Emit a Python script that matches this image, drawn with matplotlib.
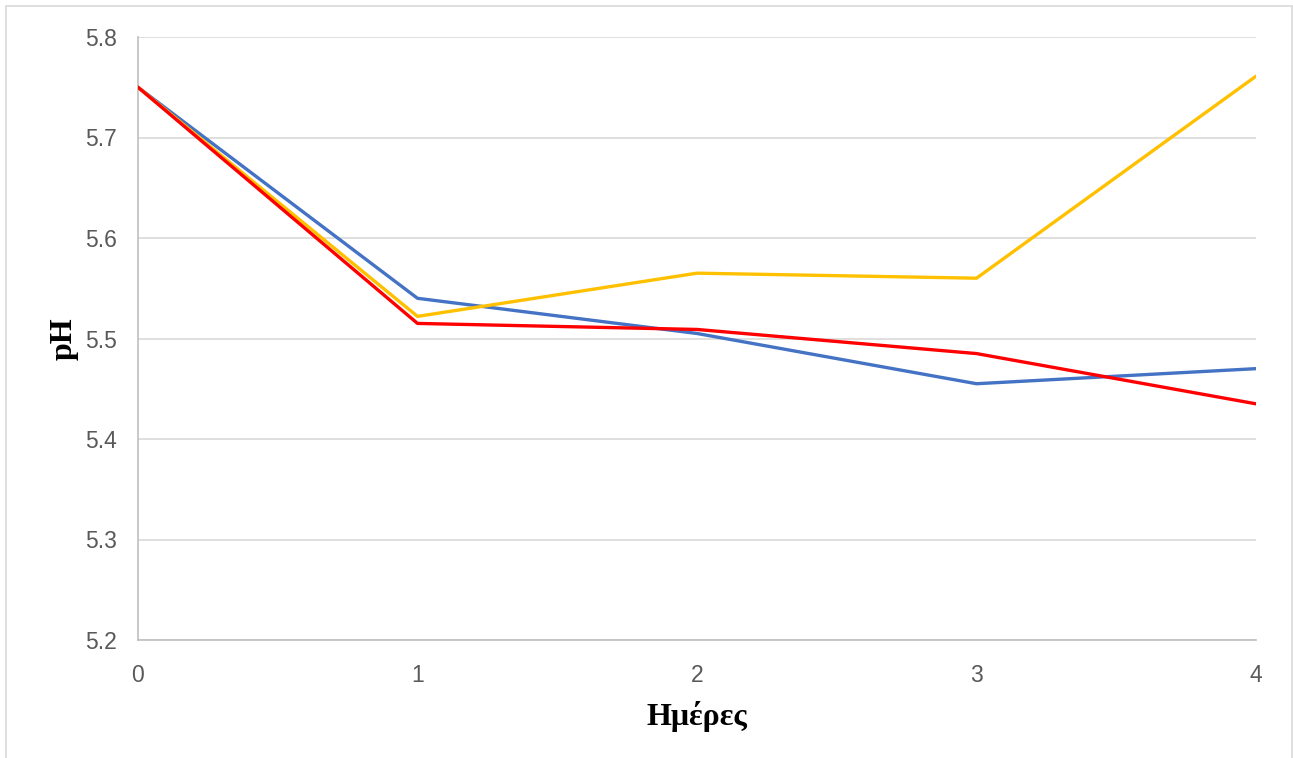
import matplotlib.pyplot as plt
from matplotlib.patches import Rectangle

days = [0, 1, 2, 3, 4]
ph_blue = [5.75, 5.540, 5.505, 5.455, 5.470]
ph_yellow = [5.75, 5.522, 5.565, 5.560, 5.761]
ph_red = [5.75, 5.515, 5.509, 5.485, 5.435]
y_ticks = [5.2, 5.3, 5.4, 5.5, 5.6, 5.7, 5.8]

W, H = 1293, 758
fig = plt.figure(figsize=(W / 100, H / 100), dpi=100)
fig.patch.set_facecolor("white")

# chart-area frame
fig.patches.append(Rectangle((6 / W, -0.01), (W - 7) / W, 1 - 6 / H + 0.01,
                             transform=fig.transFigure, fill=False,
                             edgecolor="#d9d9d9", linewidth=1.2))

ax = fig.add_axes([138 / W, 1 - 640 / H, (1256 - 138) / W, (640 - 37) / H])

ax.plot(days, ph_blue, color="#4472C4", lw=2.4, solid_capstyle="round", zorder=3)
ax.plot(days, ph_yellow, color="#FFC000", lw=2.4, solid_capstyle="round", zorder=4)
ax.plot(days, ph_red, color="#FF0000", lw=2.4, solid_capstyle="round", zorder=5)

ax.set_xlim(0, 4)
ax.set_ylim(5.2, 5.8)
ax.set_xticks(days)
ax.set_yticks(y_ticks)
ax.set_yticklabels([f"{v:.1f}" for v in y_ticks])
ax.grid(axis="y", color="#d9d9d9", lw=1.2, zorder=0)
ax.set_axisbelow(True)

for side in ["top", "right"]:
    ax.spines[side].set_visible(False)
for side in ["left", "bottom"]:
    ax.spines[side].set_color("#bfbfbf")
    ax.spines[side].set_linewidth(1.2)

ax.tick_params(axis="both", length=0, labelsize=16.5, labelcolor="#595959",
               labelfontfamily="Liberation Sans")
ax.tick_params(axis="y", pad=15)
ax.tick_params(axis="x", pad=17)

ax.set_xlabel("Ημέρες", fontfamily="Liberation Serif", fontweight="bold",
              fontsize=23, labelpad=10)
ax.set_ylabel("pH", fontfamily="Liberation Serif", fontweight="bold",
              fontsize=23, labelpad=5)

fig.savefig("out.png", dpi=100)
